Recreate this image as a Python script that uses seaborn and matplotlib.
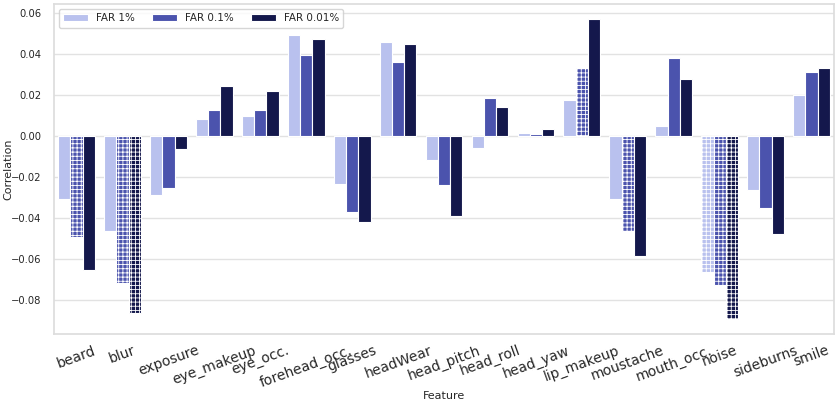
import numpy as np
import pandas as pd
import matplotlib
matplotlib.use("Agg")
import matplotlib.pyplot as plt
import seaborn as sns

features = ["beard", "blur", "exposure", "eye_makeup", "eye_occ.", "forehead_occ.",
            "glasses", "headWear", "head_pitch", "head_roll", "head_yaw", "lip_makeup",
            "moustache", "mouth_occ.", "noise", "sideburns", "smile"]
far_1 = [-0.0309, -0.0467, -0.0288, 0.0083, 0.0098, 0.0493, -0.0233, 0.0462, -0.0117,
         -0.0060, 0.0015, 0.0176, -0.0309, 0.0049, -0.0663, -0.0265, 0.0200]
far_01 = [-0.0496, -0.0717, -0.0254, 0.0127, 0.0127, 0.0397, -0.0374, 0.0361, -0.0241,
          0.0185, 0.0010, 0.0335, -0.0467, 0.0384, -0.0727, -0.0353, 0.0312]
far_001 = [-0.0655, -0.0865, -0.0062, 0.0246, 0.0220, 0.0473, -0.0423, 0.0452, -0.0390,
           0.0141, 0.0033, 0.0572, -0.0587, 0.0281, -0.0894, -0.0480, 0.0335]
series_names = ["FAR 1%", "FAR 0.1%", "FAR 0.01%"]
# hatched (significant) bars: (series index, feature)
hatched = [(1, "beard"), (1, "blur"), (2, "blur"), (1, "lip_makeup"), (1, "moustache"),
           (0, "noise"), (1, "noise"), (2, "noise")]

colors = ["#b9c1ee", "#4b53ad", "#14184c"]

df = pd.DataFrame({
    "Feature": features * 3,
    "Correlation": far_1 + far_01 + far_001,
    "FAR": sum([[n] * len(features) for n in series_names], []),
})

sns.set_theme(style="whitegrid", rc={"grid.color": "#e2e2e2"})
plt.rcParams["hatch.color"] = "white"
plt.rcParams["hatch.linewidth"] = 0.6

fig, ax = plt.subplots(figsize=(8.37, 4.11), dpi=100)
sns.barplot(data=df, x="Feature", y="Correlation", hue="FAR", palette=colors,
            saturation=1, edgecolor="white", linewidth=0.8, ax=ax, errorbar=None)

for si, feat in hatched:
    fi = features.index(feat)
    ax.containers[si][fi].set_hatch("++++")

ax.set_xlabel("Feature", fontsize=8, labelpad=1)
ax.set_ylabel("Correlation", fontsize=8)
ax.yaxis.set_label_coords(-0.052, 0.5)
ax.tick_params(axis="y", labelsize=7.2, pad=3)
ax.tick_params(axis="x", pad=1)
plt.setp(ax.get_xticklabels(), rotation=20, fontsize=10, ha="center")
ax.legend(loc="upper left", ncol=3, fontsize=7.5, frameon=True, title=None,
          handlelength=2.4, columnspacing=1.6)
for s in ax.spines.values():
    s.set_color("#dddddd")

fig.subplots_adjust(left=0.064, right=0.997, top=0.99, bottom=0.188)
fig.savefig("out.png", dpi=100)
